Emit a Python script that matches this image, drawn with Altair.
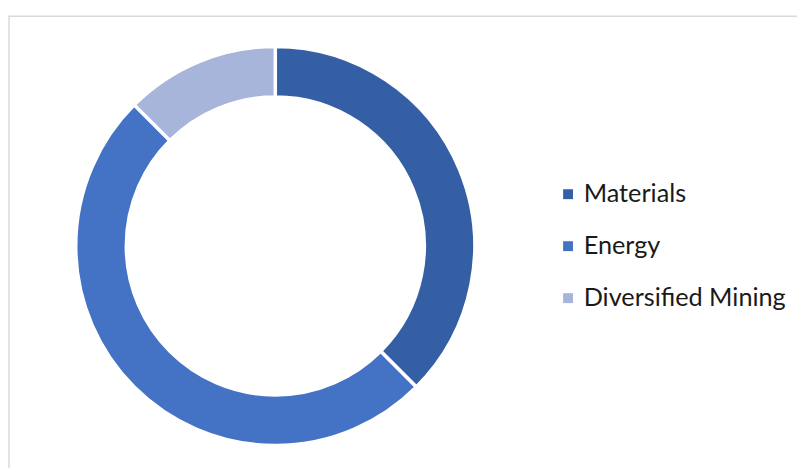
import altair as alt
import pandas as pd

categories = ["Materials", "Energy", "Diversified Mining"]
shares = [37.5, 50.0, 12.5]
colors = ["#355FA4", "#4472C4", "#A7B5DA"]

df = pd.DataFrame({"sector": categories, "share": shares, "order": list(range(len(categories)))})

border = alt.Chart(pd.DataFrame({"a": [0]})).mark_rect(
    fill=None, stroke="#d9d9d9", strokeWidth=1.5
).encode(
    x=alt.value(1), x2=alt.value(900), y=alt.value(6), y2=alt.value(700)
)

donut = alt.Chart(df).mark_arc(
    radius=201.5, radius2=150.5, stroke="white", strokeWidth=3.5
).encode(
    theta=alt.Theta("share:Q", stack=True),
    order=alt.Order("order:Q"),
    color=alt.Color(
        "sector:N",
        scale=alt.Scale(domain=categories, range=colors),
        sort=categories,
        legend=alt.Legend(
            title=None,
            orient="none",
            legendX=553,
            legendY=173,
            symbolType="square",
            symbolSize=100,
            symbolStrokeWidth=0,
            labelFontSize=25.5,
            labelFont="Lato",
            labelColor="#1a1a1a",
            labelOffset=3,
            labelLimit=400,
            rowPadding=25.5,
        ),
    ),
    x=alt.value(270),
    y=alt.value(238),
)

chart = alt.layer(border, donut).properties(
    width=797, height=460, padding=0, autosize=alt.AutoSizeParams(type="none")
).configure_view(stroke=None)

chart.save("out.html", embed_options={"renderer": "svg", "actions": False})
